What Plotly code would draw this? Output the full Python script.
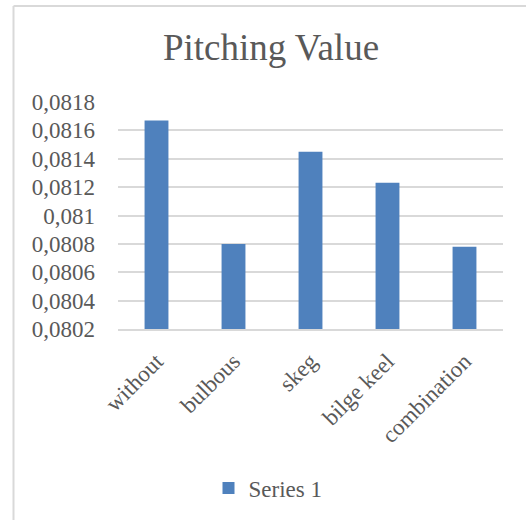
import plotly.graph_objects as go

categories = ["without", "bulbous", "skeg", "bilge keel", "combination"]
series_1 = [0.08167, 0.0808, 0.08145, 0.08123, 0.08078]
y_ticks = [0.0802, 0.0804, 0.0806, 0.0808, 0.081, 0.0812, 0.0814, 0.0816, 0.0818]
y_tick_labels = [f"{v:.4f}".rstrip("0").replace(".", ",") for v in y_ticks]

W, H = 526, 520
L, R, T, B = 118, 23, 102, 190
pw, ph = W - L - R, H - T - B

def px_x(x):
    return (x - L) / pw

def px_y(y):
    return (H - B - y) / ph

text_color = "#595959"
grid_color = "#D9D9D9"
font_family = "Liberation Serif, Times New Roman, serif"

fig = go.Figure(
    go.Bar(
        x=categories,
        y=series_1,
        name="Series 1",
        marker=dict(color="#4F81BD", line=dict(width=0)),
        showlegend=True,
    )
)

fig.update_layout(
    width=W,
    height=H,
    margin=dict(l=L, r=R, t=T, b=B),
    paper_bgcolor="white",
    plot_bgcolor="white",
    bargap=0.69,
    font=dict(family=font_family, color=text_color, size=23),
    title=dict(
        text="Pitching Value",
        x=271 / W,
        xanchor="center",
        xref="container",
        y=1 - 47 / H,
        yanchor="middle",
        yref="container",
        font=dict(size=37, color=text_color, family=font_family),
    ),
    legend=dict(
        orientation="h",
        x=px_x(268),
        xanchor="center",
        y=px_y(488),
        yanchor="middle",
        font=dict(size=23, color=text_color),
        itemwidth=30,
    ),
    shapes=[
        dict(type="line", xref="paper", yref="paper",
             x0=px_x(13.5), x1=px_x(13.5), y0=px_y(5.5), y1=px_y(530),
             line=dict(color=grid_color, width=2)),
        dict(type="line", xref="paper", yref="paper",
             x0=px_x(13.5), x1=px_x(536), y0=px_y(5.5), y1=px_y(5.5),
             line=dict(color=grid_color, width=2)),
    ],
)

fig.update_yaxes(
    range=[0.0802, 0.0818],
    tickvals=y_ticks,
    ticktext=y_tick_labels,
    showgrid=True,
    gridcolor=grid_color,
    gridwidth=1.5,
    zeroline=False,
    showline=False,
    ticks="",
    ticklabelstandoff=22,
    tickfont=dict(size=23, color=text_color),
)

fig.update_xaxes(
    tickangle=-45,
    showline=True,
    linecolor=grid_color,
    linewidth=1.5,
    ticks="",
    ticklabelstandoff=8,
    tickfont=dict(size=23, color=text_color),
)

fig.write_html("out.html")
